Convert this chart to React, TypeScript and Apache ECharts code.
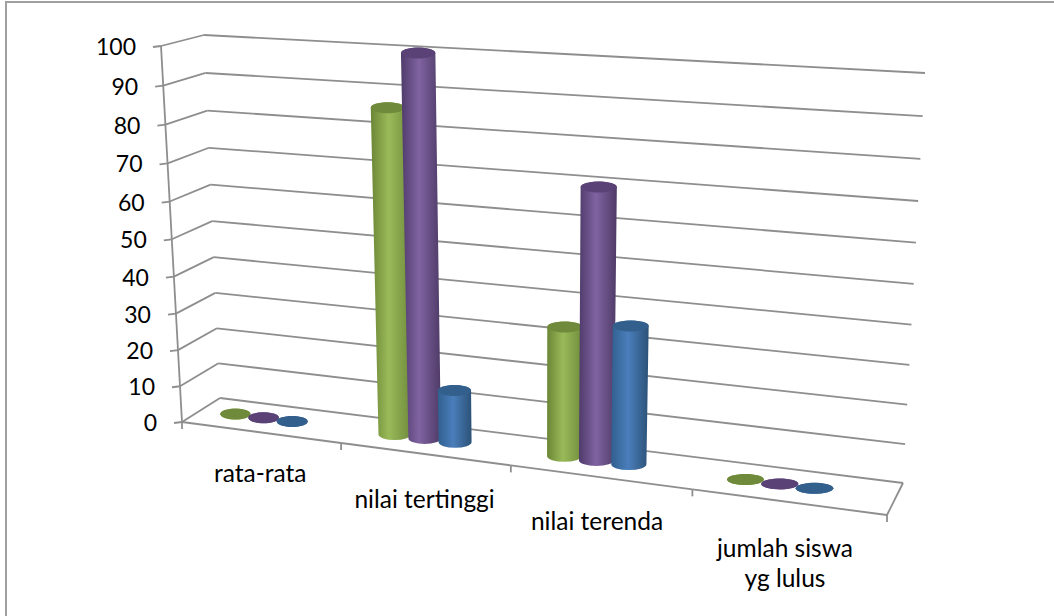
import React, { useEffect, useRef } from "react";
import * as echarts from "echarts";

const categories = ["rata-rata", "nilai tertinggi", "nilai terenda", "jumlah siswa\nyg lulus"];
const seriesGreen = [0, 86, 34, 0];
const seriesPurple = [0, 100, 70, 0];
const seriesBlue = [0, 14, 36, 0];
const yTicks = [0, 10, 20, 30, 40, 50, 60, 70, 80, 90, 100];

const FONT = "Lato, Carlito, sans-serif";
const LINE = "#8e8e8e";
const LABEL_DROP = [25, 30, 28, 31];
const LABEL_SHIFT = [0, 0, -3, -3];

type P = [number, number];
type Quad = [P, P, P, P];

// Unit square -> quad homography, corners (0,0),(1,0),(1,1),(0,1)
function homography(q: Quad) {
  const [[x0, y0], [x1, y1], [x2, y2], [x3, y3]] = q;
  const dx1 = x1 - x2, dx2 = x3 - x2, sx = x0 - x1 + x2 - x3;
  const dy1 = y1 - y2, dy2 = y3 - y2, sy = y0 - y1 + y2 - y3;
  const den = dx1 * dy2 - dx2 * dy1;
  const g = (sx * dy2 - dx2 * sy) / den;
  const h = (dx1 * sy - sx * dy1) / den;
  const a = x1 - x0 + g * x1, b = x3 - x0 + h * x3, c = x0;
  const d = y1 - y0 + g * y1, e = y3 - y0 + h * y3, f = y0;
  return (u: number, v: number): P => {
    const w = g * u + h * v + 1;
    return [(a * u + b * v + c) / w, (d * u + e * v + f) / w];
  };
}

const front = homography([[182, 422], [887, 515], [910, 87.5], [161, 46]]);
const back = homography([[220, 398], [903, 483], [925, 73], [204, 35]]);

function project(u: number, v: number, z: number): P {
  const a = front(u, v), b = back(u, v);
  return [a[0] + (b[0] - a[0]) * z, a[1] + (b[1] - a[1]) * z];
}

const BAR_Z = 0.51;
const CATEGORY_SHIFT = -0.024;
const SERIES_STEP = 0.0455;
const HALF_U = 0.0245;
const RY = 5.5;

function cylinderSeries(values: number[], index: number, body: string[], top: string) {
  return {
    type: "custom",
    coordinateSystem: "cartesian2d",
    clip: false,
    encode: { x: 0, y: 1 },
    data: values.map((v, i) => [i, v]),
    z: 3 + index,
    renderItem: (params: any, api: any) => {
      const g = params.coordSys;
      const pt = api.coord([api.value(0), api.value(1)]);
      const u = (pt[0] - g.x) / g.width + CATEGORY_SHIFT + (index - 1) * SERIES_STEP;
      const v = 1 - (pt[1] - g.y) / g.height;
      const bc = project(u, 0, BAR_Z);
      const tc = project(u, v, BAR_Z);
      const brx = (project(u + HALF_U, 0, BAR_Z)[0] - project(u - HALF_U, 0, BAR_Z)[0]) / 2;
      const trx = (project(u + HALF_U, v, BAR_Z)[0] - project(u - HALF_U, v, BAR_Z)[0]) / 2;
      const d =
        `M${tc[0] - trx} ${tc[1]} L${bc[0] - brx} ${bc[1]} ` +
        `A${brx} ${RY} 0 0 0 ${bc[0] + brx} ${bc[1]} ` +
        `L${tc[0] + trx} ${tc[1]} ` +
        `A${trx} ${RY} 0 0 0 ${tc[0] - trx} ${tc[1]} Z`;
      const gradient = new echarts.graphic.LinearGradient(0, 0, 1, 0, [
        { offset: 0, color: body[0] },
        { offset: 0.45, color: body[1] },
        { offset: 1, color: body[2] },
      ]);
      return {
        type: "group",
        children: [
          { type: "path", shape: { pathData: d }, style: { fill: gradient } },
          { type: "ellipse", shape: { cx: tc[0], cy: tc[1], rx: trx, ry: RY }, style: { fill: top } },
        ],
      };
    },
  };
}

export default function App() {
  const ref = useRef<HTMLDivElement>(null);
  useEffect(() => {
    document.body.style.margin = "0";
    const chart = echarts.init(ref.current!, undefined, { renderer: "svg" });
    const line = (a: P, b: P) => ({
      type: "line",
      shape: { x1: a[0], y1: a[1], x2: b[0], y2: b[1] },
      style: { stroke: LINE, lineWidth: 1.8 },
    });
    const frameSeries = {
      type: "custom",
      coordinateSystem: "cartesian2d",
      clip: false,
      encode: { x: 0, y: 1 },
      data: yTicks.map((t) => [0, t]),
      z: 1,
      renderItem: (params: any, api: any) => {
        const g = params.coordSys;
        const tick = api.value(1);
        const pt = api.coord([0, tick]);
        const v = 1 - (pt[1] - g.y) / g.height;
        const f = project(0, v, 0);
        const b = project(0, v, 1);
        const r = project(1, v, 1);
        const children: any[] = [
          line(f, b),
          line(b, r),
          line([f[0] - 8, f[1] + 1], f),
          {
            type: "text",
            style: {
              text: String(tick),
              x: f[0] - 25,
              y: f[1],
              align: "right",
              verticalAlign: "middle",
              font: `23px ${FONT}`,
              fill: "#000",
            },
          },
        ];
        return { type: "group", children };
      },
    };
    const floorSeries = {
      type: "custom",
      coordinateSystem: "cartesian2d",
      clip: false,
      encode: { x: 0, y: 1 },
      data: categories.map((_, i) => [i, 0]),
      z: 2,
      renderItem: (params: any, api: any) => {
        const g = params.coordSys;
        const i = api.value(0);
        const pt = api.coord([i, 0]);
        const uc = (pt[0] - g.x) / g.width;
        const n = categories.length;
        const a = project(i / n, 0, 0);
        const b = project((i + 1) / n, 0, 0);
        const c = project(uc, 0, 0);
        const children: any[] = [
          line(a, b),
          line(b, [b[0], b[1] + 7]),
          {
            type: "text",
            style: {
              text: categories[i],
              x: c[0] + LABEL_SHIFT[i],
              y: c[1] + LABEL_DROP[i],
              align: "center",
              verticalAlign: "top",
              font: `24.5px ${FONT}`,
              lineHeight: 30,
              fill: "#000",
            },
          },
        ];
        if (i === 0) children.push(line(a, [a[0], a[1] + 7]), line(project(0, 1, 0), a));
        if (i === n - 1) children.push(line(b, project(1, 0, 1)));
        return { type: "group", children };
      },
    };
    chart.setOption({
      animation: false,
      backgroundColor: "#fff",
      grid: { left: 100, top: 100, width: 400, height: 400 },
      xAxis: { type: "category", data: categories, show: false },
      yAxis: { type: "value", min: 0, max: 100, interval: 10, show: false },
      tooltip: { show: false },
      graphic: [
        {
          type: "polyline",
          shape: { points: [[6, 616], [6, 2], [1054, 2]] },
          style: { stroke: "#a0a0a0", lineWidth: 2, fill: "none" },
          silent: true,
        },
      ],
      series: [
        frameSeries,
        floorSeries,
        cylinderSeries(seriesGreen, 0, ["#6b8636", "#9aba59", "#708c3c"], "#6f8a3a"),
        cylinderSeries(seriesPurple, 1, ["#4f3b6b", "#8063a1", "#4e3a66"], "#5a4277"),
        cylinderSeries(seriesBlue, 2, ["#31608f", "#4a7ebb", "#2c5277"], "#335f8c"),
      ],
    });
    return () => chart.dispose();
  }, []);
  return <div ref={ref} style={{ position: "relative", width: 1054, height: 616 }} />;
}
